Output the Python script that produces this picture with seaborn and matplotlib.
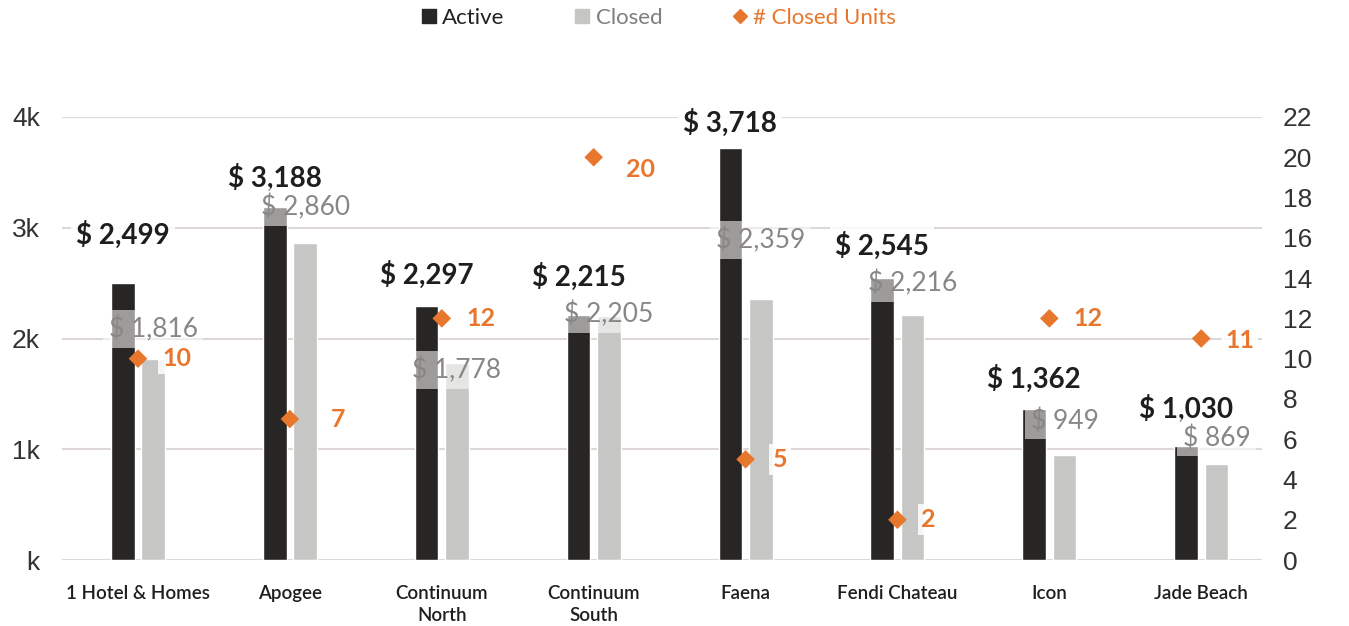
import numpy as np
import pandas as pd
import seaborn as sns
import matplotlib.pyplot as plt
from matplotlib.lines import Line2D

# data
buildings = ['1 Hotel & Homes', 'Apogee', 'Continuum\nNorth', 'Continuum\nSouth',
             'Faena', 'Fendi Chateau', 'Icon', 'Jade Beach']
active = [2499, 3188, 2297, 2215, 3718, 2545, 1362, 1030]
closed = [1816, 2860, 1778, 2205, 2359, 2216, 949, 869]
closed_units = [10, 7, 12, 20, 5, 2, 12, 11]

left_ticks = [0, 1000, 2000, 3000, 4000]
left_tick_labels = ['k', '1k', '2k', '3k', '4k']
right_ticks = list(range(0, 23, 2))

# label nudges in pixels (labels were hand placed in the original)
active_dy = [48, 29, 31, 38, 25, 32, 30, 37]
closed_dy = [30, 36, -7, 2, 59, 31, 34, 26]
units_dx = [24, 41, 25, 32, 27, 24, 24, 24]
units_dy = [0, 0, 0, -12, 0, 0, 0, -2]

ACTIVE = '#272624'
CLOSED = '#c6c6c4'
ORANGE = '#e8772e'
GREY_TXT = '#8a8686'
PX = 0.72  # points per pixel at dpi 100

df = pd.DataFrame({
    'building': buildings * 2,
    'type': ['Active'] * len(buildings) + ['Closed'] * len(buildings),
    'value': active + closed,
})

sns.set_theme(style='white')
plt.rcParams['font.family'] = ['Lato', 'DejaVu Sans']

fig = plt.figure(figsize=(13.49, 6.26), dpi=100)
ax = fig.add_axes([0.046, 0.1054, 0.8895, 0.7077])

sns.barplot(data=df, x='building', y='value', hue='type', palette=[ACTIVE, CLOSED],
            width=0.4, gap=0.22, saturation=1, legend=False, ax=ax)

ax.set_ylim(0, 4000)
ax.set_yticks(left_ticks, left_tick_labels)
ax.yaxis.grid(True, color='#ddd8d6', lw=1.5)
ax.set_axisbelow(True)
for s in ax.spines.values():
    s.set_visible(False)
ax.set_xlabel('')
ax.set_ylabel('')
ax.tick_params(axis='x', length=0, pad=18, labelsize=13.5, labelcolor='#1e1e1e')
ax.tick_params(axis='y', length=0, pad=16, labelsize=19, labelcolor='#333333')
for lbl in ax.get_xticklabels():
    lbl.set_fontweight('semibold')
    lbl.set_linespacing(1.35)
for lbl in ax.get_yticklabels():
    lbl.set_fontfamily('Liberation Sans')

# bar value labels
bbox_a = dict(boxstyle='square,pad=0.18', fc='white', ec='none', alpha=0.85)
bbox_c = dict(boxstyle='square,pad=0.22', fc='white', ec='none', alpha=0.55)
for bar, v, dy in zip(ax.containers[0], active, active_dy):
    ax.annotate(f'$ {v:,}', xy=(bar.get_x() + bar.get_width() / 2, v),
                xytext=(0, dy * PX), textcoords='offset points', ha='center', va='center',
                fontsize=20, fontweight='bold', color='#1e1e1e', bbox=bbox_a)
for bar, v, dy in zip(ax.containers[1], closed, closed_dy):
    ax.annotate(f'$ {v:,}', xy=(bar.get_x() + bar.get_width() / 2, v),
                xytext=(0, dy * PX), textcoords='offset points', ha='center', va='center',
                fontsize=19, color=GREY_TXT, bbox=bbox_c)

# closed units on the secondary axis
ax2 = ax.twinx()
xpos = np.arange(len(buildings))
sns.scatterplot(x=xpos, y=closed_units, marker='D', s=90, color=ORANGE,
                edgecolor='none', ax=ax2, legend=False, zorder=5)
ax2.set_ylim(0, 22)
ax2.set_yticks(right_ticks)
ax2.grid(False)
for s in ax2.spines.values():
    s.set_visible(False)
ax2.set_xlabel('')
ax2.set_ylabel('')
ax2.tick_params(axis='y', length=0, pad=15, labelsize=19, labelcolor='#333333')
for lbl in ax2.get_yticklabels():
    lbl.set_fontfamily('Liberation Sans')

bbox_u = dict(boxstyle='square,pad=0.15', fc='white', ec='none', alpha=0.85)
for x, n, dx, dy in zip(xpos, closed_units, units_dx, units_dy):
    ax2.annotate(str(n), xy=(x, n), xytext=(dx * PX, dy * PX), textcoords='offset points',
                 ha='left', va='center', fontsize=18, fontweight='bold', color=ORANGE,
                 bbox=bbox_u)

ax.set_xlim(-0.5, 7.4)

# legend across the top
handles = [
    Line2D([], [], marker='s', ls='none', color=ACTIVE, markersize=10),
    Line2D([], [], marker='s', ls='none', color=CLOSED, markersize=10),
    Line2D([], [], marker='D', ls='none', color=ORANGE, markersize=7),
]
leg = fig.legend(handles, ['Active', 'Closed', '# Closed Units'], loc='center',
                 bbox_to_anchor=(0.487, 0.972), ncol=3, frameon=False, fontsize=16,
                 handletextpad=0.1, columnspacing=3.0, handlelength=1)
for txt, c in zip(leg.get_texts(), ['#222222', '#7f7f7f', ORANGE]):
    txt.set_color(c)

fig.savefig('out.png', dpi=100)
